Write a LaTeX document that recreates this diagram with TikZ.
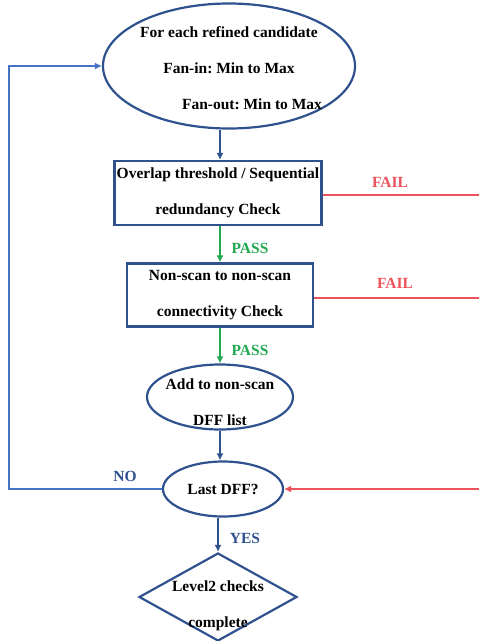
\documentclass[tikz,border=0pt]{standalone}
\usepackage{fontspec}
\setmainfont{Liberation Serif}
\usetikzlibrary{shapes.geometric,arrows.meta}
\definecolor{navy}{RGB}{47,82,143}
\definecolor{loopblue}{RGB}{68,114,196}
\definecolor{passgreen}{RGB}{34,168,80}
\definecolor{failred}{RGB}{236,82,92}
\frenchspacing
\begin{document}
\begin{tikzpicture}[x=1pt,y=-1pt,
    txt/.style={font=\fontsize{15.5}{36}\selectfont\bfseries,align=center,inner sep=0pt},
    oval/.style={draw=navy,line width=2.2pt,ellipse,inner sep=0pt},
    chkbox/.style={txt,draw=navy,line width=2.2pt,rectangle},
    endbox/.style={draw=navy,line width=2.2pt,diamond,inner sep=0pt},
    flow/.style={draw=navy,line width=2pt,-{Latex[length=7pt,width=7pt]}},
    passflow/.style={draw=passgreen,line width=2pt,-{Latex[length=7pt,width=7pt]}},
    failline/.style={draw=failred,line width=2pt},
    loopline/.style={draw=loopblue,line width=2pt,-{Latex[length=7pt,width=7pt]}},
    lbl/.style={font=\fontsize{15.5}{18}\selectfont\bfseries,inner sep=0pt}]
    \useasboundingbox (0,0) rectangle (479,641);
    % nodes
    \node[oval,minimum width=252pt,minimum height=125pt,
        label={[txt,yshift=-2pt]center:{For each refined candidate\\Fan-in: Min to Max\\\hspace*{46pt}Fan-out: Min to Max}}]
        (cand) at (229,66) {};
    \node[chkbox,minimum width=207pt,minimum height=64pt] (ovl) at (218,193)
        {Overlap threshold / Sequential\\redundancy Check};
    \node[chkbox,minimum width=186pt,minimum height=63pt] (conn) at (220,295)
        {Non-scan to non-scan\\connectivity Check};
    \node[oval,minimum width=146pt,minimum height=65pt,
        label={[txt,yshift=-5pt]center:{Add to non-scan\\DFF list}}] (add) at (220,397) {};
    \node[oval,minimum width=120pt,minimum height=55pt,
        label={[txt]center:{Last DFF?}}] (last) at (223,489) {};
    \node[endbox,minimum width=158pt,minimum height=88pt,
        label={[txt,yshift=-9pt]center:{Level2 checks\\complete}}] (done) at (218,597) {};
    \coordinate (trunk) at (220,0);
    \coordinate (loop) at (9,489);
    \coordinate (edge1) at (479,195);
    \coordinate (edge2) at (479,298);
    \coordinate (edge3) at (479,489);
    % connectors
    \draw[flow] (cand.south -| trunk) -- (ovl.north -| trunk);
    \draw[passflow] (ovl.south -| trunk) -- (conn.north -| trunk);
    \draw[passflow] (conn.south -| trunk) -- (add.north -| trunk);
    \draw[flow] (add.south -| trunk) -- (last.north -| trunk);
    \draw[flow] (last.south -| done.north) -- (done.north);
    \draw[failline] (ovl.east |- edge1) -- (edge1);
    \draw[failline] (conn.east |- edge2) -- (edge2);
    \draw[failline,-{Latex[length=7pt,width=7pt]}] (edge3) -- (last.east);
    \draw[loopline] (last.west) -- (loop) |- (cand.west);
    % labels
    \node[lbl,text=passgreen] (pass1) at (250,248) {PASS};
    \node[lbl,text=passgreen] (pass2) at (250,350) {PASS};
    \node[lbl,text=failred] (fail1) at (390,182) {FAIL};
    \node[lbl,text=failred] (fail2) at (395,283) {FAIL};
    \node[lbl,text=navy] (no) at (125,476) {NO};
    \node[lbl,text=navy] (yes) at (245,538) {YES};
\end{tikzpicture}
\end{document}
